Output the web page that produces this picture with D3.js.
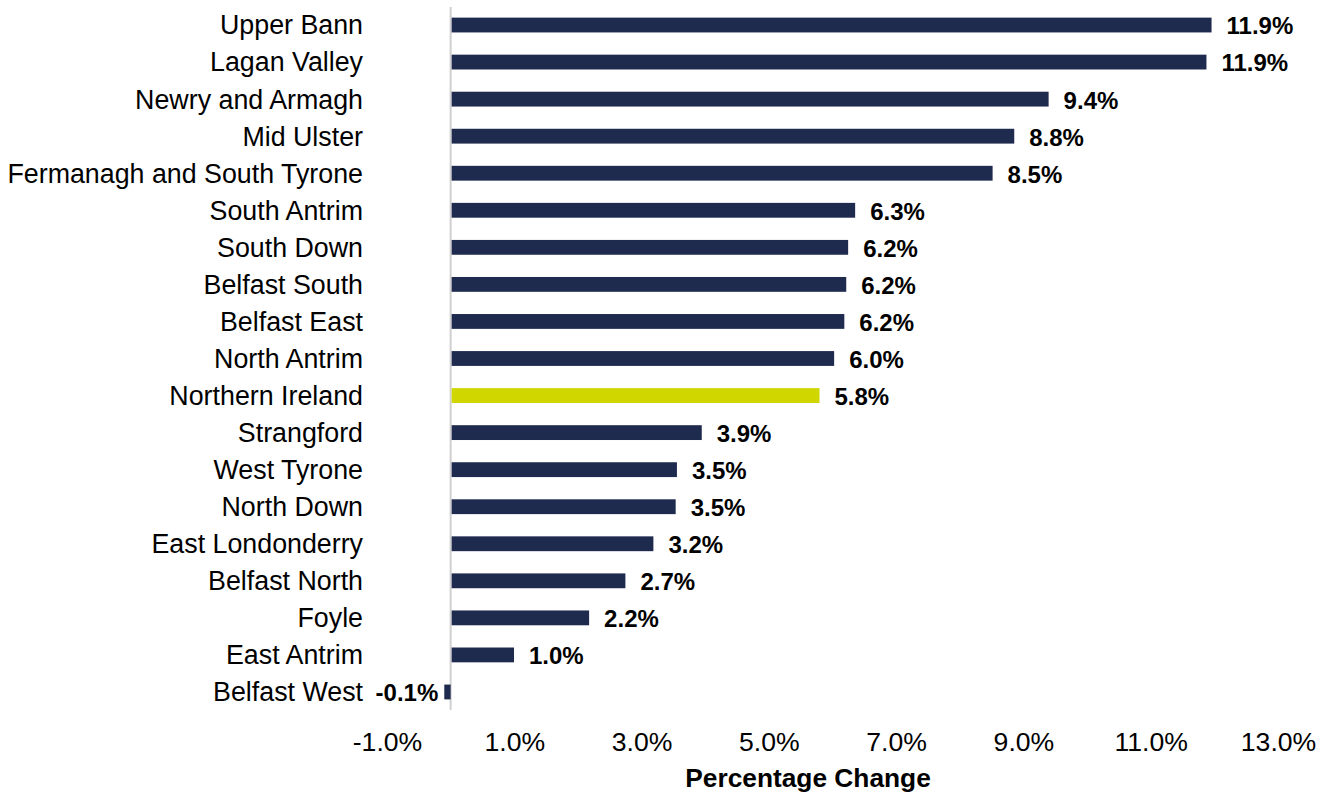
<!DOCTYPE html>
<html>
<head>
<meta charset="utf-8">
<script src="https://cdn.jsdelivr.net/npm/d3@7"></script>
<style>
  body { margin: 0; background: #fff; }
  text { font-family: Arial, "Liberation Sans", sans-serif; fill: #000; }
</style>
</head>
<body>
<div id="my_dataviz"></div>
<script>
// data
var areas = ["Upper Bann", "Lagan Valley", "Newry and Armagh", "Mid Ulster",
  "Fermanagh and South Tyrone", "South Antrim", "South Down", "Belfast South",
  "Belfast East", "North Antrim", "Northern Ireland", "Strangford", "West Tyrone",
  "North Down", "East Londonderry", "Belfast North", "Foyle", "East Antrim", "Belfast West"];
var change = [11.94, 11.86, 9.38, 8.84, 8.5, 6.34, 6.23, 6.2, 6.17, 6.01, 5.78,
  3.93, 3.54, 3.52, 3.17, 2.73, 2.16, 0.98, -0.1];
var tickVals = [-1, 1, 3, 5, 7, 9, 11, 13];
var highlight = "Northern Ireland";

var width = 1330, height = 794;

// plain hyphen for negatives, like the original
var fmt = d3.formatLocale({ decimal: ".", thousands: ",", grouping: [3], currency: ["", ""], minus: "-" }).format(".1f");
function pct(v) { return fmt(v) + "%"; }

var svg = d3.select("#my_dataviz")
  .append("svg")
    .attr("width", width)
    .attr("height", height);

var x = d3.scaleLinear()
  .domain([-1, 13])
  .range([387, 1278]);

var y = d3.scaleBand()
  .domain(areas)
  .range([6.5, 710.5])
  .paddingInner(0.6)
  .paddingOuter(0.3);

// zero line
svg.append("line")
  .attr("x1", x(0)).attr("x2", x(0))
  .attr("y1", 7).attr("y2", 710)
  .attr("stroke", "#d0d0d0")
  .attr("stroke-width", 2);

// bars
svg.selectAll("rect.bar")
  .data(areas)
  .enter()
  .append("rect")
    .attr("class", "bar")
    .attr("x", function(d, i) { return x(Math.min(0, change[i])) + (change[i] >= 0 ? 1 : 0); })
    .attr("y", function(d) { return y(d); })
    .attr("width", function(d, i) { return Math.abs(x(change[i]) - x(0)); })
    .attr("height", y.bandwidth())
    .attr("fill", function(d) { return d == highlight ? "#cfd600" : "#1f2a4f"; });

// value labels
svg.selectAll("text.val")
  .data(areas)
  .enter()
  .append("text")
    .attr("class", "val")
    .attr("x", function(d, i) { return change[i] >= 0 ? x(change[i]) + 16 : x(change[i]) - 6; })
    .attr("y", function(d) { return y(d) + y.bandwidth() / 2 + 1; })
    .attr("dy", "0.35em")
    .attr("text-anchor", function(d, i) { return change[i] >= 0 ? "start" : "end"; })
    .style("font-size", "24px")
    .style("font-weight", "bold")
    .text(function(d, i) { return pct(change[i]); });

// category labels
svg.selectAll("text.cat")
  .data(areas)
  .enter()
  .append("text")
    .attr("class", "cat")
    .attr("x", 363)
    .attr("y", function(d) { return y(d) + y.bandwidth() / 2; })
    .attr("dy", "0.35em")
    .attr("text-anchor", "end")
    .style("font-size", "26.8px")
    .text(function(d) { return d; });

// x axis
var xAxis = svg.append("g")
  .attr("transform", "translate(0,732)")
  .call(d3.axisBottom(x)
    .tickValues(tickVals)
    .tickSize(0)
    .tickPadding(0)
    .tickFormat(pct));
xAxis.select(".domain").remove();
xAxis.selectAll("text")
  .attr("dy", "0.71em")
  .style("font-size", "26.6px")
  .style("font-family", "Arial, 'Liberation Sans', sans-serif")
  .attr("fill", "#000");

svg.append("text")
  .attr("x", 808)
  .attr("y", 787)
  .attr("text-anchor", "middle")
  .style("font-size", "26.3px")
  .style("font-weight", "bold")
  .text("Percentage Change");
</script>
</body>
</html>
